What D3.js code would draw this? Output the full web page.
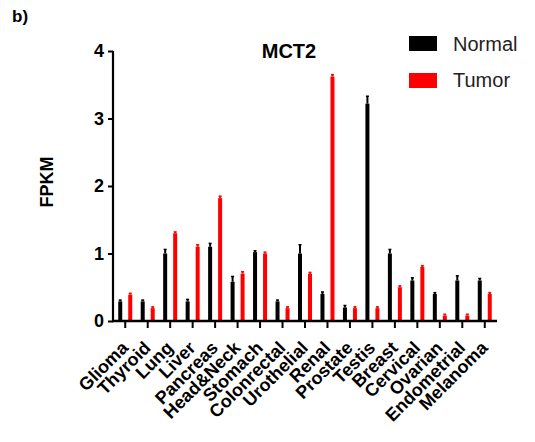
<!DOCTYPE html>
<html>
<head>
<meta charset="utf-8">
<script src="https://cdn.jsdelivr.net/npm/d3@7"></script>
<style>
  body { margin: 0; background: #fff; }
  text { font-family: 'Liberation Sans', Arial, sans-serif; }
</style>
</head>
<body>
<svg id="chart" width="535" height="442"></svg>
<script>
// data
const tissues = ["Glioma", "Thyroid", "Lung", "Liver", "Pancreas", "Head&Neck", "Stomach", "Colonrectal",
  "Urothelial", "Renal", "Prostate", "Testis", "Breast", "Cervical", "Ovarian", "Endometrial", "Melanoma"];
const normal = [0.29, 0.29, 1.0, 0.29, 1.1, 0.58, 1.02, 0.29, 1.0, 0.4, 0.2, 3.22, 1.0, 0.6, 0.4, 0.6, 0.6];
const normalErr = [0.02, 0.02, 0.06, 0.03, 0.05, 0.08, 0.02, 0.02, 0.13, 0.03, 0.03, 0.11, 0.06, 0.04, 0.02, 0.07, 0.03];
const tumor = [0.39, 0.19, 1.3, 1.1, 1.82, 0.7, 1.0, 0.19, 0.7, 3.62, 0.19, 0.19, 0.5, 0.8, 0.08, 0.08, 0.4];
const tumorErr = [0.02, 0.02, 0.02, 0.03, 0.03, 0.03, 0.02, 0.02, 0.02, 0.03, 0.02, 0.02, 0.02, 0.02, 0.02, 0.02, 0.02];
const yTicks = [0, 1, 2, 3, 4];
const seriesNames = ["Normal", "Tumor"];
const seriesColors = ["#000000", "#ff0000"];

const svg = d3.select("#chart");

const x = d3.scaleBand().domain(tissues).range([114, 496]);
const y = d3.scaleLinear().domain([0, 4]).range([321, 51]);

const barW = 4;
const offset = 5;

// bars + error bars
const series = [
  { vals: normal, err: normalErr, color: seriesColors[0], dx: -offset },
  { vals: tumor, err: tumorErr, color: seriesColors[1], dx: offset }
];

series.forEach(s => {
  const g = svg.append("g");
  tissues.forEach((t, i) => {
    const cx = x(t) + x.bandwidth() / 2 + s.dx;
    g.append("rect")
      .attr("x", cx - barW / 2)
      .attr("y", y(s.vals[i]))
      .attr("width", barW)
      .attr("height", y(0) - y(s.vals[i]))
      .attr("fill", s.color);
    // error bar
    g.append("line")
      .attr("x1", cx).attr("x2", cx)
      .attr("y1", y(s.vals[i])).attr("y2", y(s.vals[i] + s.err[i]))
      .attr("stroke", s.color).attr("stroke-width", 2);
    g.append("line")
      .attr("x1", cx - 1.5).attr("x2", cx + 1.5)
      .attr("y1", y(s.vals[i] + s.err[i])).attr("y2", y(s.vals[i] + s.err[i]))
      .attr("stroke", s.color).attr("stroke-width", 1.5);
  });
});

// y axis
const yAxis = svg.append("g")
  .attr("transform", "translate(113,0)")
  .call(d3.axisLeft(y).tickValues(yTicks).tickFormat(d3.format("d")).tickSize(5).tickPadding(4));
yAxis.select(".domain").attr("stroke-width", 2.2).attr("d", `M0,${y(4)}V${y(0)}`);
yAxis.selectAll(".tick line").attr("stroke-width", 2);
yAxis.selectAll(".tick text")
  .style("font-family", "'Liberation Sans', Arial, sans-serif")
  .style("font-size", "18px").style("font-weight", "bold").attr("fill", "#000");

// x axis
const xAxis = svg.append("g")
  .attr("transform", `translate(0,${y(0)})`)
  .call(d3.axisBottom(x).tickSize(7).tickSizeOuter(0));
xAxis.select(".domain").attr("stroke-width", 2.6).attr("d", "M112,0H497");
xAxis.selectAll(".tick line").attr("stroke-width", 2);
xAxis.selectAll(".tick text")
  .style("font-family", "'Liberation Sans', Arial, sans-serif")
  .style("font-size", "18px").style("font-weight", "bold").attr("fill", "#000")
  .attr("text-anchor", "end")
  .attr("y", 0).attr("dy", 0)
  .attr("transform", "translate(4,28) rotate(-45)");

// y label
svg.append("text")
  .attr("transform", "translate(53,182) rotate(-90)")
  .attr("text-anchor", "middle")
  .style("font-size", "18px").style("font-weight", "bold")
  .text("FPKM");

// title
svg.append("text")
  .attr("x", 289).attr("y", 58)
  .attr("text-anchor", "middle")
  .style("font-size", "20px").style("font-weight", "bold")
  .text("MCT2");

// panel letter
svg.append("text")
  .attr("x", 12).attr("y", 22)
  .style("font-size", "17px").style("font-weight", "bold")
  .text("b)");

// legend
const legend = svg.append("g");
seriesNames.forEach((n, i) => {
  legend.append("rect")
    .attr("x", 409).attr("y", 36 + i * 37)
    .attr("width", 28).attr("height", 15)
    .attr("fill", seriesColors[i]);
  legend.append("text")
    .attr("x", 453).attr("y", 51 + i * 36)
    .style("font-size", "20px").attr("fill", "#222")
    .text(n);
});
</script>
</body>
</html>
